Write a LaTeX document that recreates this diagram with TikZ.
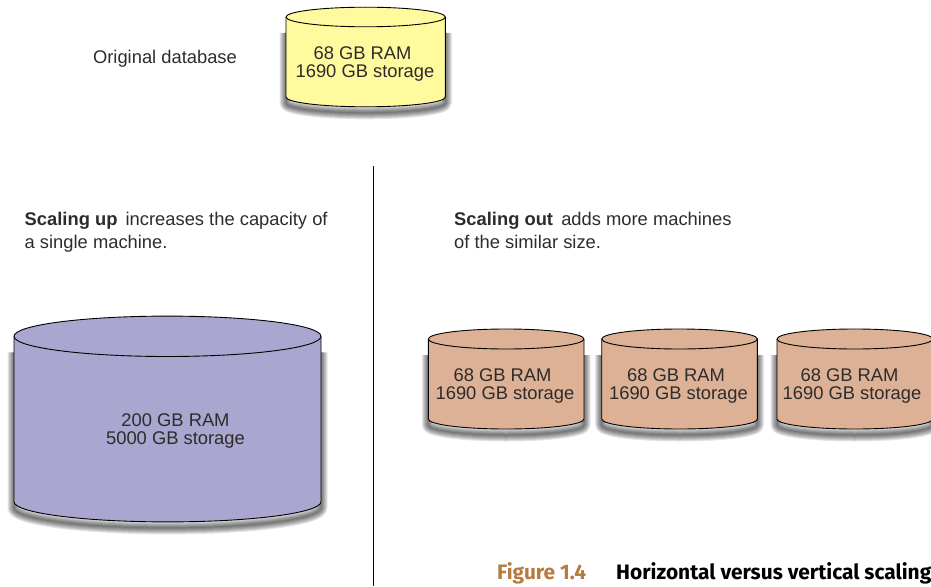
\documentclass[tikz,border=0pt]{standalone}
\usepackage{fontspec}
\setmainfont{Liberation Sans}
\newfontfamily\capfont{Fira Sans}
\definecolor{dbyellow}{HTML}{FFFA9E}
\definecolor{dbpurple}{HTML}{A9A6CF}
\definecolor{dbtan}{HTML}{DCB195}
\definecolor{inktext}{HTML}{2E2B2B}
\definecolor{capbrown}{HTML}{B57B3F}
\tikzset{
	dbtext/.style={text=inktext,align=center,inner sep=0pt,font=\fontsize{18.35}{18}\selectfont},
	plaintext/.style={text=inktext,align=left,anchor=north west,inner sep=0pt,font=\fontsize{18.35}{22.5}\selectfont},
	captext/.style={anchor=base west,inner sep=0pt,font=\capfont\bfseries\fontsize{20.9}{24}\selectfont}
}
% left, right, y of top centre, y of bottom centre, vertical radius, colour
\newcommand{\dbcan}[6]{%
	\pgfmathsetmacro{\rx}{(#2-#1)/2}
	\pgfmathsetmacro{\ys}{#3+10}
	\foreach \w in {1,3,...,13}{
		\draw[black,line width=\w pt,opacity=0.1,yshift=-6pt]
		(#1,\ys)--(#1,#4) arc[start angle=180,end angle=0,x radius=\rx,y radius=#5]--(#2,\ys);
	}
	\draw[black,line width=0.9pt,fill=#6] (#1,#3)--(#1,#4)
	arc[start angle=180,end angle=0,x radius=\rx,y radius=#5]--(#2,#3)
	arc[start angle=0,end angle=-180,x radius=\rx,y radius=#5]--cycle;
	\draw[black,line width=0.9pt] (#1,#3) arc[start angle=180,end angle=0,x radius=\rx,y radius=#5];
}
\begin{document}
\begin{tikzpicture}[x=1pt,y=-1pt,line join=round]
	\useasboundingbox (0,0) rectangle (931,586);
	\clip (0,0) rectangle (931,586);
	%==Original database
	\dbcan{286}{445.3}{17}{97}{9.8}{dbyellow}
	\node[plaintext,anchor=center] (original) at (165,58.5) {Original database};
	\node[dbtext] (oldsize) at (365,64) {68 GB RAM\hspace*{5pt}\\1690 GB storage};
	%==Divider
	\coordinate (divtop) at (373,166);
	\coordinate (divbot) at (373,586);
	\draw[black,line width=0.8pt] (divtop)--(divbot);
	%==Scaling up
	\node[plaintext] (uptext) at (24.5,212.5) {\textbf{Scaling up}\, increases the capacity of\\a single machine.};
	\dbcan{14}{321}{336.3}{501.7}{20.2}{dbpurple}
	\node[dbtext] (upsize) at (175.5,431) {200 GB RAM\\5000 GB storage};
	%==Scaling out
	\node[plaintext] (outtext) at (454,212.5) {\textbf{Scaling out}\, adds more machines\\of the similar size.};
	\dbcan{428.3}{584}{339}{419}{10}{dbtan}
	\dbcan{601.7}{757.4}{339}{419}{10}{dbtan}
	\dbcan{777}{932.7}{339}{419}{10}{dbtan}
	\node[dbtext] (outsizea) at (505,386) {68 GB RAM\hspace*{5pt}\\1690 GB storage};
	\node[dbtext] (outsizeb) at (678.5,386) {68 GB RAM\hspace*{5pt}\\1690 GB storage};
	\node[dbtext] (outsizec) at (852,386) {68 GB RAM\hspace*{5pt}\\1690 GB storage};
	%==Caption
	\node[captext,text=capbrown] (figlabel) at (497,579.5) {Figure 1.4};
	\node[captext,text=black] (figtitle) at (616,579.5) {Horizontal versus vertical scaling};
\end{tikzpicture}
\end{document}
